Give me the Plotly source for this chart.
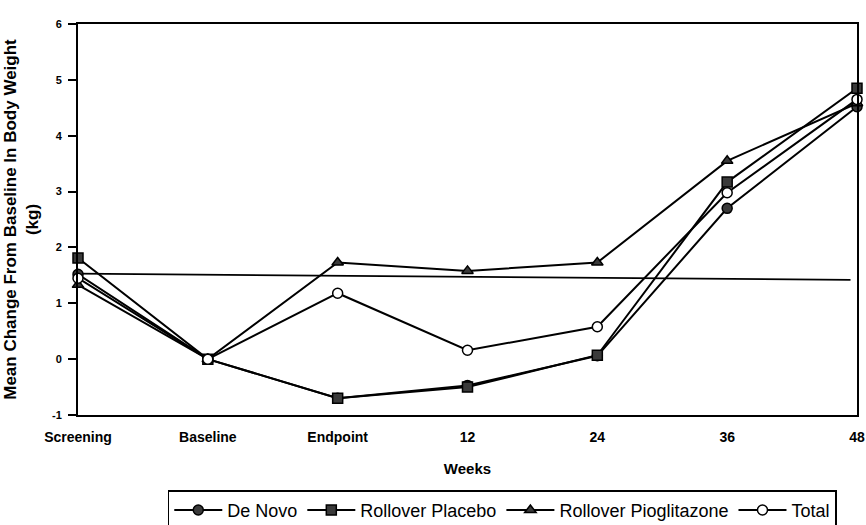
import plotly.graph_objects as go

categories = ["Screening", "Baseline", "Endpoint", "12", "24", "36", "48"]
de_novo = [1.52, 0.0, -0.70, -0.47, 0.06, 2.70, 4.52]
rollover_placebo = [1.81, 0.0, -0.70, -0.50, 0.07, 3.17, 4.85]
rollover_pioglitazone = [1.33, 0.0, 1.73, 1.58, 1.73, 3.55, 4.58]
total = [1.45, 0.0, 1.18, 0.16, 0.58, 2.98, 4.65]
ref_line = [1.53, 1.42]
y_ticks = [-1, 0, 1, 2, 3, 4, 5, 6]
y_tick_labels = ["-1", "0", "1", "2", "3", "4", "5", "6"]

FONT = "Arial, Liberation Sans, sans-serif"
MC = "#3a3a3a"

x_idx = list(range(len(categories)))

fig = go.Figure()

def add(name, vals, symbol, fill):
    fig.add_trace(go.Scatter(
        x=x_idx, y=vals, name=name, mode="lines+markers",
        line=dict(color="black", width=2),
        marker=dict(symbol=symbol, size=10, color=fill,
                    line=dict(color="black", width=1.5)),
        cliponaxis=False,
    ))

add("De Novo", de_novo, "circle", MC)
add("Rollover Placebo", rollover_placebo, "square", MC)
add("Rollover Pioglitazone", rollover_pioglitazone, "triangle-up", MC)
add("Total", total, "circle", "white")

fig.add_shape(type="line", xref="x", yref="y",
              x0=0, x1=5.95, y0=ref_line[0], y1=ref_line[1],
              line=dict(color="black", width=1.8), layer="below")

fig.update_layout(
    width=866, height=525,
    margin=dict(l=78, r=9, t=24, b=110),
    paper_bgcolor="white", plot_bgcolor="white",
    font=dict(family=FONT, color="black"),
    showlegend=True,
    legend=dict(
        orientation="h", xref="container", yref="container",
        x=0.58, xanchor="center", y=0.066, yanchor="top",
        bordercolor="black", borderwidth=1.5,
        font=dict(size=18, family=FONT, color="black"),
        itemwidth=48, tracegroupgap=0,
    ),
)

fig.update_xaxes(
    range=[0, 6], tickmode="array", tickvals=x_idx, ticktext=categories,
    showgrid=False, zeroline=False, automargin=False,
    showline=True, linecolor="black", linewidth=2, mirror=True,
    ticks="", ticklabelstandoff=8,
    tickfont=dict(size=14, family=FONT, weight="bold"),
    title=dict(text="Weeks", font=dict(size=15, family=FONT, weight="bold"),
               standoff=20),
)
fig.update_yaxes(
    range=[-1, 6], tickmode="array", tickvals=y_ticks, ticktext=y_tick_labels,
    showgrid=False, zeroline=False, automargin=False,
    showline=True, linecolor="black", linewidth=2, mirror=True,
    ticks="outside", ticklen=8, tickwidth=1.5, tickcolor="black",
    ticklabelstandoff=4,
    tickfont=dict(size=11, family=FONT, weight="bold"),
    title=dict(text="Mean Change From Baseline In Body Weight<br>(kg)",
               font=dict(size=17, family=FONT, weight="bold"), standoff=9),
)

fig.write_html(
    "out.html",
    config={"displayModeBar": False},
    post_script="document.body.style.margin='0';document.body.style.overflow='hidden';",
)
